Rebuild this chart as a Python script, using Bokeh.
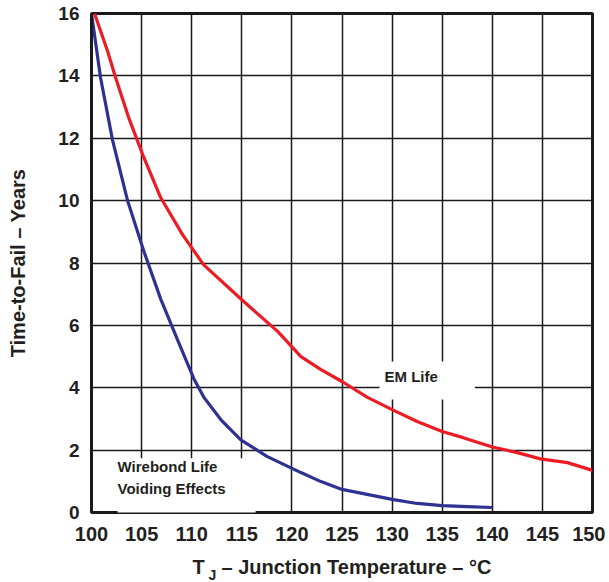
from bokeh.plotting import figure
from bokeh.models import Label, FixedTicker, Range1d
from bokeh.embed import file_html
from bokeh.resources import INLINE

# EM Life (red)
em_temp = [100.3, 101.6, 102.4, 103.7, 105.2, 106.9, 109.1, 111.2, 115.0, 118.6, 120.9,
           122.9, 125.0, 127.5, 130.0, 132.5, 135.0, 137.1, 140.0, 142.5, 144.8, 147.5, 150.0]
em_life = [16.0, 14.8, 13.95, 12.67, 11.4, 10.1, 8.9, 7.94, 6.82, 5.8, 5.0,
           4.58, 4.2, 3.7, 3.3, 2.92, 2.6, 2.4, 2.1, 1.92, 1.72, 1.6, 1.35]

# Wirebond Life / Voiding Effects (blue)
wb_temp = [100.0, 100.9, 102.1, 103.6, 105.2, 106.9, 108.6, 110.2, 111.2, 112.9, 114.9,
           117.5, 120.9, 122.9, 125.0, 127.5, 130.0, 132.5, 135.0, 137.5, 140.0]
wb_life = [16.0, 13.95, 11.94, 10.0, 8.4, 6.85, 5.53, 4.3, 3.7, 2.98, 2.33,
           1.8, 1.28, 0.99, 0.74, 0.58, 0.42, 0.29, 0.22, 0.19, 0.16]

x_ticks = [100, 105, 110, 115, 120, 125, 130, 135, 140, 145, 150]
y_ticks = [0, 2, 4, 6, 8, 10, 12, 14, 16]

FONT = "Liberation Sans"
RED = "#ED1C24"
BLUE = "#2E3192"
INK = "#231f20"

p = figure(width=605, height=580, output_backend="svg", toolbar_location=None,
           x_range=Range1d(100, 150), y_range=Range1d(0, 16),
           min_border_left=91, min_border_right=13, min_border_top=13, min_border_bottom=67)
p.background_fill_color = "white"
p.border_fill_color = "white"
p.outline_line_color = "#1a1a1a"
p.outline_line_width = 3

p.xaxis.ticker = FixedTicker(ticks=x_ticks)
p.yaxis.ticker = FixedTicker(ticks=y_ticks)
p.xgrid.ticker = FixedTicker(ticks=x_ticks)
p.ygrid.ticker = FixedTicker(ticks=y_ticks)
for g in (p.xgrid, p.ygrid):
    g.grid_line_color = "#1a1a1a"
    g.grid_line_width = 1.5
    g.grid_line_alpha = 1.0

for ax in (p.xaxis, p.yaxis):
    ax.axis_line_color = "#1a1a1a"
    ax.axis_line_width = 3
    ax.major_tick_line_color = None
    ax.minor_tick_line_color = None
    ax.major_tick_out = 0
    ax.major_tick_in = 0
    ax.major_label_text_font = FONT
    ax.major_label_text_font_style = "bold"
    ax.major_label_text_color = INK
    ax.axis_label_text_font = FONT
    ax.axis_label_text_font_style = "bold"
    ax.axis_label_text_font_size = "20px"
    ax.axis_label_text_color = INK

p.xaxis.major_label_text_font_size = "20px"
p.yaxis.major_label_text_font_size = "19px"
p.xaxis.major_label_standoff = 14
p.yaxis.major_label_standoff = 12

p.yaxis.axis_label = "Time-to-Fail – Years"
p.yaxis.axis_label_standoff = 26

# x title: the subscript J is added as a separate small label
p.xaxis.axis_label = "T\u00a0\u00a0\u00a0– Junction Temperature – °C"
p.xaxis.axis_label_standoff = 12

p.line(em_temp, em_life, line_color=RED, line_width=3.2)
p.line(wb_temp, wb_life, line_color=BLUE, line_width=3.2)

em = Label(x=133.5, y=4.23, text="EM Life", text_font=FONT, text_font_style="bold",
           text_font_size="15px", text_color=INK, text_align="center",
           text_baseline="middle", background_fill_color="white",
           padding=(5, 37, 6, 15))
p.add_layout(em)

wb = Label(x=102.6, y=0.70, text="Wirebond Life\nVoiding Effects", text_font=FONT,
           text_font_style="bold", text_font_size="15px", text_color=INK,
           text_align="left", text_baseline="middle", text_line_height=1.28,
           background_fill_color="white", padding=(0, 30, 0, 26))
p.add_layout(wb)

sub_j = Label(x=111.68, y=-1.99, text="J", text_font=FONT, text_font_style="bold",
              text_font_size="14px", text_color=INK, text_align="left",
              text_baseline="alphabetic")
p.add_layout(sub_j, "right")

open("out.html", "w").write(file_html(p, INLINE))
